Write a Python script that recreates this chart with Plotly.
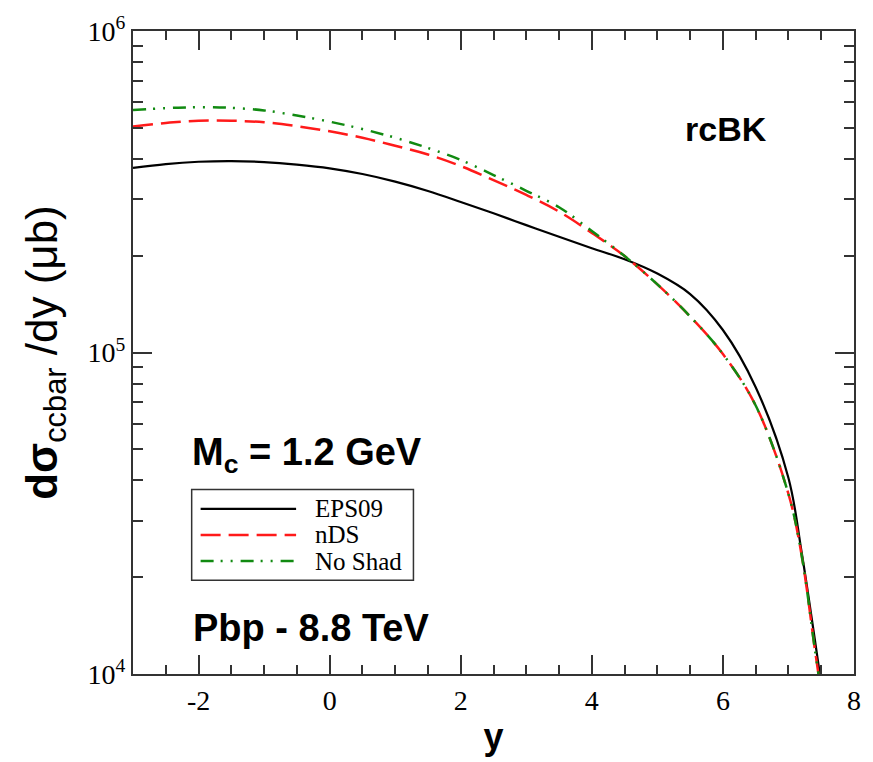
import plotly.graph_objects as go

# Rapidity grid and d(sigma_ccbar)/dy in microbarn for each nPDF set
rapidity = [-3, -2.5, -2, -1.5, -1, -0.5, 0, 0.5, 1, 1.5, 2, 2.5, 3, 3.5,
            4, 4.5, 5, 5.5, 6, 6.5, 7, 7.2, 7.4, 7.5]

eps09 = [375000, 385500, 392000, 394000, 391000, 384000, 374000, 359000,
         340000, 318000, 294000, 271000, 249000, 229000, 211000, 195000,
         176000, 152000, 117500, 78000, 40700, 24000, 12900, 9330]

nds = [504700, 517600, 526000, 526000, 520000, 505800, 487500, 465600,
       439500, 413000, 380200, 343600, 309000, 274200, 235500, 199500,
       162900, 129400, 98900, 68400, 36300, 23500, 12050, 8730]

no_shad = [567500, 575400, 579400, 576800, 566200, 545800, 522400, 495500,
           465600, 432500, 397200, 356500, 318400, 283100, 238800, 199500,
           162900, 129400, 98900, 68400, 36300, 23500, 12050, 8730]

series_names = ["EPS09", "nDS", "No Shad"]
x_ticks = [-2, 0, 2, 4, 6, 8]
x_tick_text = ["-2", "0", "2", "4", "6", "8"]
y_ticks = [1e4, 1e5, 1e6]
y_tick_text = ["10<sup>4</sup>", "10<sup>5</sup>", "10<sup>6</sup>"]
y_minor = [m * 10 ** e for e in (4, 5) for m in range(2, 10)]

SERIF = "Liberation Serif, Times New Roman, serif"
SANS = "Liberation Sans, Arial, sans-serif"

styles = [
    dict(color="black", width=2.2, dash="solid"),
    dict(color="#ff1a1a", width=2.5, dash="20px,8px"),
    dict(color="#118a11", width=2.5, dash="13px,7px,2px,8px,2px,8px"),
]

fig = go.Figure()
for name, vals, st in zip(series_names, [eps09, nds, no_shad], styles):
    fig.add_trace(go.Scatter(
        x=rapidity, y=vals, mode="lines", name=name,
        line=dict(color=st["color"], width=st["width"], dash=st["dash"],
                  shape="spline", smoothing=1.0),
        showlegend=False,
    ))

# plot area geometry in pixels (used for the hand-drawn legend box)
L, R, T, B = 133, 858, 23, 689
W, H = 873, 762


def px_x(p):
    return (p - L) / (R - L)


def px_y(p):
    return (B - p) / (B - T)


shapes = [dict(type="rect", xref="paper", yref="paper",
               x0=px_x(192), x1=px_x(415), y0=px_y(592), y1=px_y(498),
               line=dict(color="#333333", width=1.5), fillcolor="white",
               layer="above")]
annotations = []
for i, (name, st) in enumerate(zip(series_names, styles)):
    yy = 518 + 27 * i
    shapes.append(dict(type="line", xref="paper", yref="paper",
                       x0=px_x(201), x1=px_x(297), y0=px_y(yy), y1=px_y(yy),
                       line=dict(color=st["color"], width=st["width"],
                                 dash=st["dash"]), layer="above"))
    annotations.append(dict(xref="paper", yref="paper", x=px_x(314),
                            y=px_y(yy), text=name, showarrow=False,
                            xanchor="left", yanchor="middle",
                            font=dict(family=SERIF, size=25, color="black")))

annotations += [
    dict(xref="paper", yref="paper", x=px_x(729), y=px_y(125),
         text="<b>rcBK</b>", showarrow=False, xanchor="center",
         yanchor="middle", font=dict(family=SANS, size=34, color="black")),
    dict(xref="paper", yref="paper", x=px_x(190), y=px_y(462),
         text="<b>M<sub>c</sub> = 1.2 GeV</b>", showarrow=False,
         xanchor="left", yanchor="middle",
         font=dict(family=SANS, size=38, color="black")),
    dict(xref="paper", yref="paper", x=px_x(191), y=px_y(641),
         text="<b>Pbp - 8.8 TeV</b>", showarrow=False, xanchor="left",
         yanchor="middle", font=dict(family=SANS, size=38, color="black")),
]

fig.update_layout(
    width=W, height=H,
    margin=dict(l=L, r=W - R, t=T, b=H - B),
    plot_bgcolor="white", paper_bgcolor="white",
    shapes=shapes, annotations=annotations,
    xaxis=dict(
        range=[-3, 8], tickvals=x_ticks, ticktext=x_tick_text,
        ticks="inside", ticklen=19,
        tickwidth=1.5, tickcolor="#333333",
        showline=True, linecolor="#333333", linewidth=2, mirror="allticks",
        showgrid=False, zeroline=False,
        tickfont=dict(family=SERIF, size=28, color="black"),
        minor=dict(dtick=0.5, tick0=0, ticks="inside", ticklen=9,
                   tickwidth=1.5, tickcolor="#333333", showgrid=False),
        title=dict(text="<b>y</b>", standoff=9,
                   font=dict(family=SANS, size=36, color="black")),
    ),
    yaxis=dict(
        type="log", range=[4, 6], tickvals=y_ticks, ticktext=y_tick_text,
        ticks="inside", ticklen=19, tickwidth=1.5, tickcolor="#333333",
        showline=True, linecolor="#333333", linewidth=2, mirror="allticks",
        showgrid=False, zeroline=False,
        tickfont=dict(family=SERIF, size=28, color="black"),
        minor=dict(tickmode="array", tickvals=y_minor, ticks="inside",
                   ticklen=10, tickwidth=1.5, tickcolor="#333333",
                   showgrid=False),
        title=dict(text="<b>dσ</b><sub>ccbar</sub> /dy (μb)", standoff=16,
                   font=dict(family=SANS, size=44, color="black")),
    ),
)

fig.write_html("out.html")
